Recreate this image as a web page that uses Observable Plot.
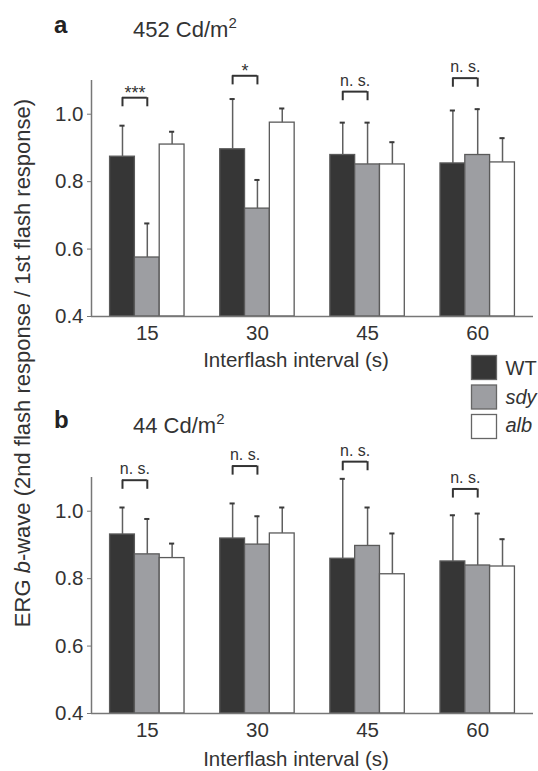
<!DOCTYPE html>
<html><head><meta charset="utf-8">
<script src="https://cdn.jsdelivr.net/npm/d3@7"></script>
<script src="https://cdn.jsdelivr.net/npm/@observablehq/plot@0.6"></script>
<style>
html,body{margin:0;padding:0;background:#fff;}
#fig{position:relative;width:538px;height:771px;overflow:hidden;background:#fff;}
#fig svg{position:absolute;left:0;}
</style></head><body><div id="fig"></div>
<script>
// ---------- data ----------
const intervals = [15, 30, 45, 60];
const genotypes = ["WT", "sdy", "alb"];
const genotypeColors = ["#363636", "#9d9ea2", "#ffffff"];
const yTicks = [0.4, 0.6, 0.8, 1.0];

// panel a: 452 Cd/m2
const aWT = [0.874, 0.896, 0.879, 0.854];
const aSdy = [0.575, 0.720, 0.851, 0.879];
const aAlb = [0.910, 0.975, 0.851, 0.857];
const aWTsd = [0.092, 0.149, 0.096, 0.157];
const aSdySd = [0.101, 0.085, 0.124, 0.136];
const aAlbSd = [0.038, 0.042, 0.066, 0.072];
const aSig = ["***", "*", "n. s.", "n. s."];
const aBracket = [1.049, 1.114, 1.067, 1.107];

// panel b: 44 Cd/m2
const bWT = [0.931, 0.919, 0.859, 0.851];
const bSdy = [0.872, 0.901, 0.897, 0.839];
const bAlb = [0.861, 0.934, 0.813, 0.836];
const bWTsd = [0.080, 0.104, 0.237, 0.137];
const bSdySd = [0.105, 0.084, 0.114, 0.154];
const bAlbSd = [0.043, 0.077, 0.121, 0.081];
const bSig = ["n. s.", "n. s.", "n. s.", "n. s."];
const bBracket = [1.092, 1.134, 1.147, 1.066];

// ---------- layout ----------
const FONT = '"Liberation Sans", Arial, Helvetica, sans-serif';
const BAR_W = 3.38;            // bar width, in interval units
const X_DOMAIN = [7.4, 67.6];
const Y_DOMAIN = [0.4, 1.1];
const LEG = 0.027;

function panel(means, sds, sig, bracket) {
  const rows = [];
  genotypes.forEach((g, k) => intervals.forEach((iv, i) =>
    rows.push({g, k, interval: iv, mean: means[k][i], sd: sds[k][i]})));
  const center = d => d.interval + (d.k - 1) * BAR_W;
  const brs = intervals.map((iv, i) => ({interval: iv, top: bracket[i], label: sig[i]}));
  const bl = d => d.interval - BAR_W, br = d => d.interval;
  return Plot.plot({
    width: 538, height: 360,
    marginTop: 80, marginBottom: 44, marginLeft: 91, marginRight: 5,
    x: {domain: X_DOMAIN}, y: {domain: Y_DOMAIN},
    color: {domain: genotypes, range: genotypeColors},
    style: {fontFamily: FONT, color: "#333", background: "transparent", overflow: "visible"},
    marks: [
      Plot.rect(rows, {x1: d => center(d) - BAR_W / 2, x2: d => center(d) + BAR_W / 2,
        y1: () => Y_DOMAIN[0], y2: "mean", fill: "g", stroke: "#5a5a5a", strokeWidth: 1.3}),
      Plot.ruleX(rows, {x: center, y1: "mean", y2: d => d.mean + d.sd, stroke: "#5f5f5f", strokeWidth: 1.5}),
      Plot.ruleY(rows, {x1: d => center(d) - 0.35, x2: d => center(d) + 0.35, y: d => d.mean + d.sd,
        stroke: "#3a3a3a", strokeWidth: 2}),
      Plot.ruleY(brs, {x1: bl, x2: br, y: "top", stroke: "#333", strokeWidth: 2}),
      Plot.ruleX(brs, {x: bl, y1: "top", y2: d => d.top - LEG, stroke: "#333", strokeWidth: 2}),
      Plot.ruleX(brs, {x: br, y1: "top", y2: d => d.top - LEG, stroke: "#333", strokeWidth: 2}),
      Plot.text(brs.filter(d => d.label.startsWith("n")), {x: d => d.interval - BAR_W / 2, y: "top", text: "label",
        lineAnchor: "bottom", dy: -6, fontSize: 16, fill: "#333"}),
      Plot.text(brs.filter(d => d.label.startsWith("*")), {x: d => d.interval - BAR_W / 2, y: "top", text: "label",
        lineAnchor: "bottom", dy: 1, fontSize: 18, fill: "#333"}),
      Plot.ruleY([Y_DOMAIN[0]], {stroke: "#777", strokeWidth: 1.5}),
      Plot.ruleX([X_DOMAIN[0]], {stroke: "#777", strokeWidth: 1.5}),
      Plot.axisY({ticks: yTicks, tickFormat: d3.format(".1f"), tickSize: 4, tickPadding: 4,
        fontSize: 20.5, label: null, stroke: "#777"}),
      Plot.axisX({ticks: intervals, tickSize: 0, tickPadding: 9, fontSize: 20.5, label: null})
    ]
  });
}

const fig = document.getElementById("fig");
const pa = panel([aWT, aSdy, aAlb], [aWTsd, aSdySd, aAlbSd], aSig, aBracket);
pa.style.top = "0px";
fig.appendChild(pa);
const pb = panel([bWT, bSdy, bAlb], [bWTsd, bSdySd, bAlbSd], bSig, bBracket);
pb.style.top = "397px";
fig.appendChild(pb);

// ---------- overlay text & legend ----------
const ov = d3.create("svg").attr("width", 538).attr("height", 771)
  .style("top", "0px").style("background", "transparent")
  .attr("font-family", FONT).attr("fill", "#333");

function heading(letter, intensity, xL, yL, yI) {
  ov.append("text").attr("x", xL).attr("y", yL).attr("font-weight", "bold").attr("font-size", 24).attr("fill", "#222").text(letter);
  const t = ov.append("text").attr("x", 133).attr("y", yI).attr("font-size", 22).text(intensity + " Cd/m");
  t.append("tspan").attr("font-size", 15).attr("dy", -9.5).text("2");
}
heading("a", "452", 54, 33, 37.3);
heading("b", "44", 54, 427.5, 433.3);

ov.append("text").attr("x", 296).attr("y", 367).attr("text-anchor", "middle").attr("font-size", 20.5).text("Interflash interval (s)");
ov.append("text").attr("x", 296).attr("y", 766).attr("text-anchor", "middle").attr("font-size", 20.5).text("Interflash interval (s)");

const yl = ov.append("text").attr("transform", "translate(30,363) rotate(-90)")
  .attr("text-anchor", "middle").attr("font-size", 22);
yl.append("tspan").text("ERG ");
yl.append("tspan").attr("font-style", "italic").text("b");
yl.append("tspan").text("-wave (2nd flash response / 1st flash response)");

const lg = ov.append("g");
genotypes.forEach((g, i) => {
  lg.append("rect").attr("x", 471.5).attr("y", 355.5 + i * 29.5).attr("width", 25).attr("height", 24)
    .attr("fill", genotypeColors[i]).attr("stroke", "#666").attr("stroke-width", 1.3);
  lg.append("text").attr("x", 505.5).attr("y", 375 + i * 28.5).attr("font-size", 20)
    .attr("font-style", i === 0 ? "normal" : "italic").text(g);
});
fig.appendChild(ov.node());
</script></body></html>
